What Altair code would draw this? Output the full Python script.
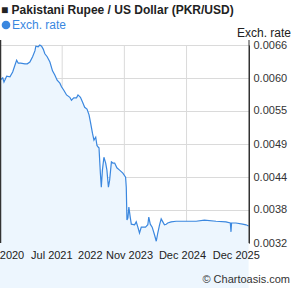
import altair as alt
import pandas as pd

dates = [
    "2020-12-05", "2020-12-25", "2021-01-03", "2021-01-23", "2021-02-16", "2021-03-08",
    "2021-03-25", "2021-04-06", "2021-04-18", "2021-05-05", "2021-06-06", "2021-06-23",
    "2021-07-12", "2021-08-01", "2021-08-18", "2021-08-25", "2021-09-11", "2021-09-23",
    "2021-10-06", "2021-10-18", "2021-10-30", "2021-11-16", "2021-12-06", "2021-12-25",
    "2022-01-11", "2022-01-28", "2022-02-17", "2022-03-01", "2022-03-18", "2022-04-07",
    "2022-05-01", "2022-05-13", "2022-05-30", "2022-06-19", "2022-06-30", "2022-07-18",
    "2022-08-02", "2022-08-18", "2022-09-04", "2022-09-19", "2022-09-29", "2022-10-14",
    "2022-10-25", "2022-11-07", "2022-11-16", "2022-11-26", "2022-12-01", "2022-12-11",
    "2022-12-18", "2022-12-26", "2023-01-06", "2023-01-19", "2023-01-28", "2023-02-08",
    "2023-02-17", "2023-03-02", "2023-03-13", "2023-03-26", "2023-04-11", "2023-05-01",
    "2023-05-25", "2023-06-14", "2023-06-19", "2023-06-24", "2023-07-01", "2023-07-08",
    "2023-07-18", "2023-07-26", "2023-08-19", "2023-08-31", "2023-09-12", "2023-09-24",
    "2023-10-07", "2023-10-18", "2023-11-07", "2023-11-24", "2023-12-01", "2023-12-12",
    "2023-12-26", "2024-01-12", "2024-01-25", "2024-02-05", "2024-02-18", "2024-03-01",
    "2024-03-13", "2024-03-25", "2024-04-07", "2024-04-18", "2024-05-13", "2024-06-19",
    "2024-08-06", "2024-11-12", "2025-01-12", "2025-04-07", "2025-06-19", "2025-07-21",
    "2025-07-26", "2025-07-30", "2025-08-31", "2025-10-19", "2025-11-13", "2025-12-02",
]
rates = [
    0.00600, 0.00604, 0.00597, 0.00607, 0.00606, 0.00614,
    0.00626, 0.00634, 0.00629, 0.00629, 0.00628, 0.00628,
    0.00631, 0.00640, 0.00650, 0.00658, 0.00657, 0.00660,
    0.00658, 0.00653, 0.00645, 0.00640, 0.00631, 0.00616,
    0.00609, 0.00600, 0.00595, 0.00589, 0.00583, 0.00575,
    0.00571, 0.00566, 0.00570, 0.00570, 0.00575, 0.00571,
    0.00563, 0.00554, 0.00551, 0.00541, 0.00529, 0.00510,
    0.00498, 0.00503, 0.00489, 0.00486, 0.00485, 0.00442,
    0.00418, 0.00447, 0.00469, 0.00459, 0.00447, 0.00418,
    0.00430, 0.00461, 0.00459, 0.00459, 0.00451, 0.00447,
    0.00442, 0.00435, 0.00418, 0.00362, 0.00366, 0.00384,
    0.00367, 0.00355, 0.00354, 0.00359, 0.00350, 0.00340,
    0.00350, 0.00350, 0.00350, 0.00354, 0.00367, 0.00355,
    0.00350, 0.00337, 0.00326, 0.00340, 0.00354, 0.00364,
    0.00359, 0.00354, 0.00355, 0.00357, 0.00359, 0.00360,
    0.00360, 0.00360, 0.00362, 0.00360, 0.00359, 0.00357,
    0.00342, 0.00357, 0.00357, 0.00355, 0.00354, 0.00352,
]

y_ticks = [0.00323, 0.0037917, 0.0043533, 0.004915, 0.0054767, 0.0060383, 0.0066]
grid_dates = ["2022-03-06", "2023-06-05", "2024-09-03"]
label_dates = ["2021-03-03", "2021-12-20", "2022-09-28", "2023-07-13", "2024-08-04", "2025-09-03"]
label_texts = ["2020", "Jul 2021", "2022", "Nov 2023", "Dec 2024", "Dec 2025"]

W, H = 249, 198
FONT = "Liberation Sans"
LINE = "#3a87df"
FILL = "#edf6fe"
GRID = "#dadada"

df = pd.DataFrame({"date": dates, "rate": rates})
xscale = alt.Scale(domain=["2020-12-05", "2025-12-05"])
yscale = alt.Scale(domain=[0.00323, 0.0066], zero=False, nice=False)

xenc = alt.X("date:T", scale=xscale,
             axis=alt.Axis(labels=False, ticks=False, grid=False, title=None,
                           domainColor="#333333", domainWidth=1.5))
yenc = alt.Y("rate:Q", scale=yscale,
             axis=alt.Axis(orient="right", values=y_ticks, format=".4f", title=None,
                           ticks=False, grid=True, gridColor=GRID, gridOpacity=1,
                           labelOverlap=False, labelBound=False,
                           domainColor="#333333", labelColor="#333333",
                           labelFontSize=11, labelFont=FONT, labelPadding=4))

base = alt.Chart(df)

vgrid = alt.Chart(pd.DataFrame({"d": grid_dates})).mark_rule(
    color=GRID, strokeWidth=1).encode(x=alt.X("d:T", scale=xscale, axis=None))

area = base.mark_area(color=FILL).encode(x=xenc, y=yenc)
line = base.mark_line(color=LINE, strokeWidth=1.2).encode(x=xenc, y=yenc)

xlabels = alt.Chart(pd.DataFrame({"d": label_dates, "t": label_texts})).mark_text(
    font=FONT, fontSize=11, color="#222222", baseline="middle", align="center"
).encode(x=alt.X("d:T", axis=None), y=alt.value(H + 13), text="t:N")

one = alt.Data(values=[{"a": 1}])
left_border = alt.Chart(one).mark_rule(color="#333333", strokeWidth=1.5).encode(
    x=alt.value(0.5), y=alt.value(-5), y2=alt.value(H))
right_border = alt.Chart(one).mark_rule(color="#333333", strokeWidth=1).encode(
    x=alt.value(W), y=alt.value(-5), y2=alt.value(H))

title = alt.Chart(one).mark_text(
    text="\u25a0 Pakistani Rupee / US Dollar (PKR/USD)", font=FONT, fontSize=12,
    fontWeight="bold", color="#222222", align="left", baseline="alphabetic"
).encode(x=alt.value(1), y=alt.value(-31))
legend_dot = alt.Chart(one).mark_circle(color=LINE, opacity=1, size=75).encode(
    x=alt.value(6), y=alt.value(-20))
legend = alt.Chart(one).mark_text(
    text="Exch. rate", font=FONT, fontSize=12, color="#3a87df",
    align="left", baseline="alphabetic"
).encode(x=alt.value(12), y=alt.value(-16))
ytitle = alt.Chart(one).mark_text(
    text="Exch. rate", font=FONT, fontSize=12, color="#222222",
    align="right", baseline="alphabetic"
).encode(x=alt.value(291), y=alt.value(-8))
copyright_ = alt.Chart(one).mark_text(
    text="\u00a9 Chartoasis.com", font=FONT, fontSize=11, color="#333333",
    align="right", baseline="alphabetic"
).encode(x=alt.value(290), y=alt.value(H + 40))

chart = alt.layer(
    vgrid, area, line, left_border, right_border, xlabels, title, legend_dot, legend,
    ytitle, copyright_
).properties(
    width=W, height=H,
    autosize=alt.AutoSizeParams(type="none"),
    padding={"left": 0, "top": 45, "right": 46, "bottom": 45},
).configure_view(stroke=None).configure(background="white")

chart.save("out.html", embed_options={"renderer": "svg", "actions": False})
